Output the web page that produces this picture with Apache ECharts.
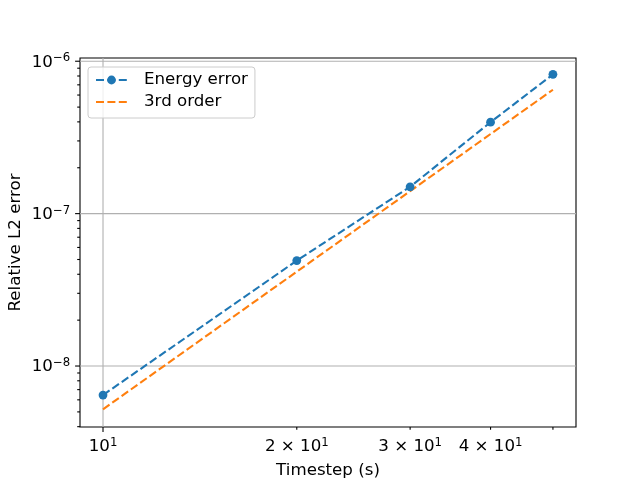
<!DOCTYPE html>
<html>
<head>
<meta charset="utf-8">
<script src="https://cdn.jsdelivr.net/npm/echarts@6/dist/echarts.min.js"></script>
<style>
html,body{margin:0;padding:0;background:#fff;}
#chart{width:640px;height:480px;}
</style>
</head>
<body>
<div id="chart"></div>
<script>
// data
var timesteps = [10, 20, 30, 40, 50];
var energyError = [6.45e-9, 4.92e-8, 1.5e-7, 3.98e-7, 8.2e-7];
var thirdOrder = [5.2e-9, 4.16e-8, 1.404e-7, 3.33e-7, 6.5e-7];

// axis ranges and ticks
var xMin = 9.21, xMax = 54.3;
var yMin = 3.98e-9, yMax = 1.05e-6;
var xTicks = [10, 20, 30, 40, 50];
var xTickMajor = [1, 0, 0, 0, 0];
var xTickLabels = ['10{s|1}', '2 \u00d7 10{s|1}', '3 \u00d7 10{s|1}', '4 \u00d7 10{s|1}', ''];
var yMajor = [1e-8, 1e-7, 1e-6];
var yMajorLabels = ['10{s|\u22128}', '10{s|\u22127}', '10{s|\u22126}'];
var yMinor = [4e-9, 5e-9, 6e-9, 7e-9, 8e-9, 9e-9,
  2e-8, 3e-8, 4e-8, 5e-8, 6e-8, 7e-8, 8e-8, 9e-8,
  2e-7, 3e-7, 4e-7, 5e-7, 6e-7, 7e-7, 8e-7, 9e-7];
var xGrid = [10];
var yGrid = [1e-8, 1e-7, 1e-6];

var FONT = 'DejaVu Sans';
var FS = 16.67;
var RICH = {s: {fontSize: 11.7, fontFamily: FONT, fill: '#000', verticalAlign: 'top', lineHeight: 12}};

function pairs(xs, ys) {
  var out = [];
  for (var i = 0; i < xs.length; i++) out.push([xs[i], ys[i]]);
  return out;
}

// tick items: [x, y, kind(0=x,1=y), major]
var tickData = [];
var tickText = [];
for (var i = 0; i < xTicks.length; i++) {
  tickData.push([xTicks[i], yMin, 0, xTickMajor[i]]);
  tickText.push(xTickLabels[i]);
}
for (var i = 0; i < yMajor.length; i++) {
  tickData.push([xMin, yMajor[i], 1, 1]);
  tickText.push(yMajorLabels[i]);
}
for (var i = 0; i < yMinor.length; i++) {
  tickData.push([xMin, yMinor[i], 1, 0]);
  tickText.push('');
}

var gridData = [];
for (var i = 0; i < xGrid.length; i++) gridData.push([xGrid[i], yMin, 0]);
for (var i = 0; i < yGrid.length; i++) gridData.push([xMin, yGrid[i], 1]);

function labelStyle(txt, align, valign) {
  return {text: txt, fill: '#000', fontSize: FS, fontFamily: FONT, lineHeight: 20,
    align: align, verticalAlign: valign, rich: RICH};
}

function renderTick(params, api) {
  var cs = params.coordSys;
  var p = api.coord([api.value(0), api.value(1)]);
  var len = api.value(3) ? 4.9 : 2.8;
  var txt = tickText[params.dataIndex];
  var kids = [];
  if (api.value(2) === 0) {
    var yb = cs.y + cs.height;
    kids.push({type: 'line', shape: {x1: p[0], y1: yb, x2: p[0], y2: yb + len},
      style: {stroke: '#000', lineWidth: 1.1}});
    if (txt) kids.push({type: 'text', x: p[0], y: yb + 4.9 + 5,
      style: labelStyle(txt, 'center', 'top')});
  } else {
    var xl = cs.x;
    kids.push({type: 'line', shape: {x1: xl - len, y1: p[1], x2: xl, y2: p[1]},
      style: {stroke: '#000', lineWidth: 1.1}});
    if (txt) kids.push({type: 'text', x: xl - 4.9 - 4.9, y: p[1] + 1,
      style: labelStyle(txt, 'right', 'middle')});
  }
  return {type: 'group', children: kids};
}

function renderGrid(params, api) {
  var cs = params.coordSys;
  var p = api.coord([api.value(0), api.value(1)]);
  var shape = api.value(2) === 0
    ? {x1: p[0], y1: cs.y, x2: p[0], y2: cs.y + cs.height}
    : {x1: cs.x, y1: p[1], x2: cs.x + cs.width, y2: p[1]};
  return {type: 'line', shape: shape, style: {stroke: '#b0b0b0', lineWidth: 1.1}};
}

var chart = echarts.init(document.getElementById('chart'));
chart.setOption({
  animation: false,
  backgroundColor: '#fff',
  textStyle: {fontFamily: FONT},
  grid: {left: 80, right: 64, top: 58, bottom: 53, show: true,
    outerBoundsMode: 'none', containLabel: false,
    borderColor: '#000', borderWidth: 1.1, backgroundColor: 'transparent'},
  legend: {
    data: ['Energy error', {name: '3rd order', itemStyle: {opacity: 0}}],
    orient: 'vertical', left: 88, top: 67,
    padding: [4, 7, 7, 7], itemGap: 4,
    itemWidth: 31, itemHeight: 11,
    backgroundColor: 'rgba(255,255,255,0.8)',
    borderColor: '#cccccc', borderWidth: 1, borderRadius: 3,
    textStyle: {fontSize: FS, color: '#000', fontFamily: FONT, lineHeight: 18, padding: [0, 0, 0, 12]}
  },
  xAxis: {
    type: 'log', logBase: 10, min: xMin, max: xMax,
    name: 'Timestep (s)', nameLocation: 'middle', nameGap: 35,
    nameTextStyle: {fontSize: FS, color: '#000', fontFamily: FONT},
    axisLine: {show: false}, axisTick: {show: false}, axisLabel: {show: false},
    splitLine: {show: false}, minorTick: {show: false}
  },
  yAxis: {
    type: 'log', logBase: 10, min: yMin, max: yMax,
    name: 'Relative L2 error', nameLocation: 'middle', nameGap: 56,
    nameTextStyle: {fontSize: FS, color: '#000', fontFamily: FONT},
    axisLine: {show: false}, axisTick: {show: false}, axisLabel: {show: false},
    splitLine: {show: false}, minorTick: {show: false}
  },
  series: [
    {type: 'custom', name: 'grid', z: 1, silent: true, renderItem: renderGrid,
      data: gridData, encode: {x: 0, y: 1}},
    {type: 'line', name: 'Energy error', z: 4, data: pairs(timesteps, energyError),
      symbol: 'circle', symbolSize: 8.8, showAllSymbol: true,
      itemStyle: {color: '#1f77b4'},
      lineStyle: {color: '#1f77b4', width: 2.1, type: [8, 3.4]}},
    {type: 'line', name: '3rd order', z: 3, data: pairs(timesteps, thirdOrder),
      symbol: 'none', showSymbol: false,
      itemStyle: {color: '#ff7f0e'},
      lineStyle: {color: '#ff7f0e', width: 2.1, type: [8, 3.4]}},
    {type: 'custom', name: 'ticks', z: 5, silent: true, renderItem: renderTick,
      data: tickData, encode: {x: 0, y: 1}, clip: false}
  ]
});
</script>
</body>
</html>
